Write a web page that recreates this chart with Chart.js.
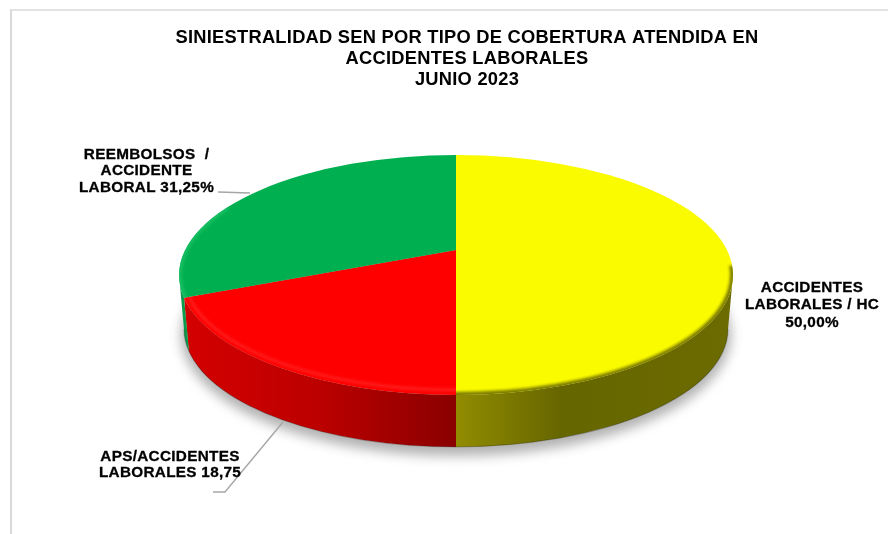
<!DOCTYPE html>
<html>
<head>
<meta charset="utf-8">
<script src="https://cdn.jsdelivr.net/npm/chart.js@4"></script>
<style>
  html, body { margin: 0; background: #fff; overflow: hidden; }
  #frame { position: absolute; left: 10px; top: 9px; right: 0; bottom: 0; border-left: 2px solid #d9d9d9; border-top: 2px solid #e2e2e2; }
  canvas { position: absolute; left: 0; top: 0; }
</style>
</head>
<body>
<div id="frame"></div>
<canvas id="pie" width="888" height="534"></canvas>
<script>
const categories = ['ACCIDENTES LABORALES / HC', 'APS/ACCIDENTES LABORALES', 'REEMBOLSOS / ACCIDENTE LABORAL'];
const values = [50, 18.75, 31.25];
const faceColors = ['#fbfb00', '#ff0000', '#00b050'];
const titleLines = ['SINIESTRALIDAD SEN POR TIPO DE COBERTURA ATENDIDA EN', 'ACCIDENTES LABORALES', 'JUNIO 2023'];
const labelYellow = ['ACCIDENTES', 'LABORALES / HC', '50,00%'];
const labelRed = ['APS/ACCIDENTES', 'LABORALES 18,75'];
const labelGreen = ['REEMBOLSOS  /', 'ACCIDENTE', 'LABORAL 31,25%'];

// top face ellipse, the apex sits above its centre because of the perspective
const top3d = { cx: 456, cy: 275, rx: 277, ry: 120, apexY: 250 };
const bottom3d = { cx: 456, cy: 329, rx: 272, ry: 118 };

// chart angle -> angle on the drawn ellipse (circle seen in perspective)
function toEllipseAngle(a) {
  const k = (top3d.apexY - top3d.cy) / top3d.ry;
  const u = Math.cos(a), v = Math.sin(a);
  const w = 1 + k * v;
  return Math.atan2((v + k) / w, u * Math.sqrt(1 - k * k) / w);
}

function wallGradient(ctx, i) {
  let g;
  if (i === 0) {
    g = ctx.createLinearGradient(456, 0, 733, 0);
    g.addColorStop(0, '#918c00');
    g.addColorStop(0.38, '#666600');
    g.addColorStop(1, '#6b6b00');
  } else if (i === 1) {
    g = ctx.createLinearGradient(187, 0, 456, 0);
    g.addColorStop(0, '#d40000');
    g.addColorStop(0.5, '#bb0000');
    g.addColorStop(1, '#8a0000');
  } else {
    g = '#0b9a4a';
  }
  return g;
}

const pie3d = {
  id: 'pie3d',
  beforeDraw(chart) {
    chart.ctx.letterSpacing = '0.26px'; // reference title is stretched a bit
  },
  beforeDatasetDraw(chart) {
    const ctx = chart.ctx;
    const arcs = chart.getDatasetMeta(0).data;
    const angles = arcs.map(arc => {
      const start = toEllipseAngle(arc.startAngle);
      let end = toEllipseAngle(arc.endAngle);
      while (end <= start) end += Math.PI * 2;
      return [start, end];
    });

    // soft shadow under the disc
    ctx.save();
    ctx.filter = 'blur(6px)';
    ctx.fillStyle = 'rgba(0,0,0,0.30)';
    ctx.beginPath();
    ctx.ellipse(bottom3d.cx, bottom3d.cy + 6, bottom3d.rx + 3, bottom3d.ry + 3, 0, 0, Math.PI * 2);
    ctx.fill();
    ctx.restore();

    // side wall, only the front half of the disc shows
    angles.forEach(([start, end], i) => {
      const from = Math.max(start, 0);
      const to = Math.min(end, Math.PI);
      if (to <= from) return;
      ctx.beginPath();
      ctx.ellipse(top3d.cx, top3d.cy, top3d.rx, top3d.ry, 0, from, to);
      ctx.ellipse(bottom3d.cx, bottom3d.cy, bottom3d.rx, bottom3d.ry, 0, to, from, true);
      ctx.closePath();
      ctx.fillStyle = wallGradient(ctx, i);
      ctx.fill();
      // darker bottom edge
      ctx.strokeStyle = 'rgba(0,0,0,0.22)';
      ctx.lineWidth = 1.2;
      ctx.beginPath();
      ctx.ellipse(bottom3d.cx, bottom3d.cy, bottom3d.rx, bottom3d.ry, 0, from, to);
      ctx.stroke();
    });

    // top face, the rim only shows along the front edge
    const rims = [
      { color: 'rgba(90,90,0,0.8)', inset: 0, width: 6, from: -0.08, to: Math.PI },
      { color: 'rgba(255,80,80,0.55)', inset: 5, width: 2, from: 0, to: Math.PI },
      { color: 'rgba(40,200,110,0.6)', inset: 1, width: 4, from: Math.PI - 0.3, to: Math.PI + 0.6 }
    ];
    angles.forEach(([start, end], i) => {
      ctx.save();
      ctx.beginPath();
      ctx.moveTo(top3d.cx, top3d.apexY);
      ctx.ellipse(top3d.cx, top3d.cy, top3d.rx, top3d.ry, 0, start, end);
      ctx.closePath();
      ctx.fillStyle = faceColors[i];
      ctx.fill();
      ctx.clip();
      const rim = rims[i];
      ctx.filter = 'blur(1.5px)';
      ctx.strokeStyle = rim.color;
      ctx.lineWidth = rim.width;
      ctx.beginPath();
      ctx.ellipse(top3d.cx, top3d.cy, top3d.rx - rim.inset, top3d.ry - rim.inset, 0, rim.from, rim.to);
      ctx.stroke();
      ctx.restore();
    });
    return false;
  },
  afterDraw(chart) {
    const ctx = chart.ctx;
    ctx.save();
    // leader lines
    ctx.strokeStyle = '#a6a6a6';
    ctx.lineWidth = 1.4;
    ctx.beginPath();
    ctx.moveTo(218, 192); ctx.lineTo(250, 193);
    ctx.moveTo(283, 422); ctx.lineTo(225, 492); ctx.lineTo(213, 492);
    ctx.stroke();
    // data labels
    ctx.fillStyle = '#000';
    ctx.strokeStyle = '#000';
    ctx.lineWidth = 0.3;
    ctx.font = 'bold 15.3px "Liberation Sans"';
    ctx.letterSpacing = '0.3px';
    ctx.textAlign = 'center';
    ctx.textBaseline = 'middle';
    const put = (t, x, y) => { ctx.fillText(t, x, y); ctx.strokeText(t, x, y); };
    labelYellow.forEach((t, i) => put(t, 812, 287.5 + i * 17.5));
    labelRed.forEach((t, i) => put(t, 170, 456.5 + i * 16.5));
    labelGreen.forEach((t, i) => put(t, 146.5, 154.5 + i * 16.5));
    ctx.restore();
  }
};

new Chart(document.getElementById('pie'), {
  type: 'pie',
  data: {
    labels: categories,
    datasets: [{ data: values, backgroundColor: faceColors, borderWidth: 0 }]
  },
  plugins: [pie3d],
  options: {
    responsive: false,
    animation: false,
    layout: { padding: { left: 46 } },
    plugins: {
      legend: { display: false },
      tooltip: { enabled: false },
      title: {
        display: true,
        text: titleLines,
        color: '#000',
        font: { family: '"Liberation Sans"', size: 18.3, weight: 'bold', lineHeight: 1.15 },
        padding: { top: 27, bottom: 10 }
      }
    }
  }
});
</script>
</body>
</html>
